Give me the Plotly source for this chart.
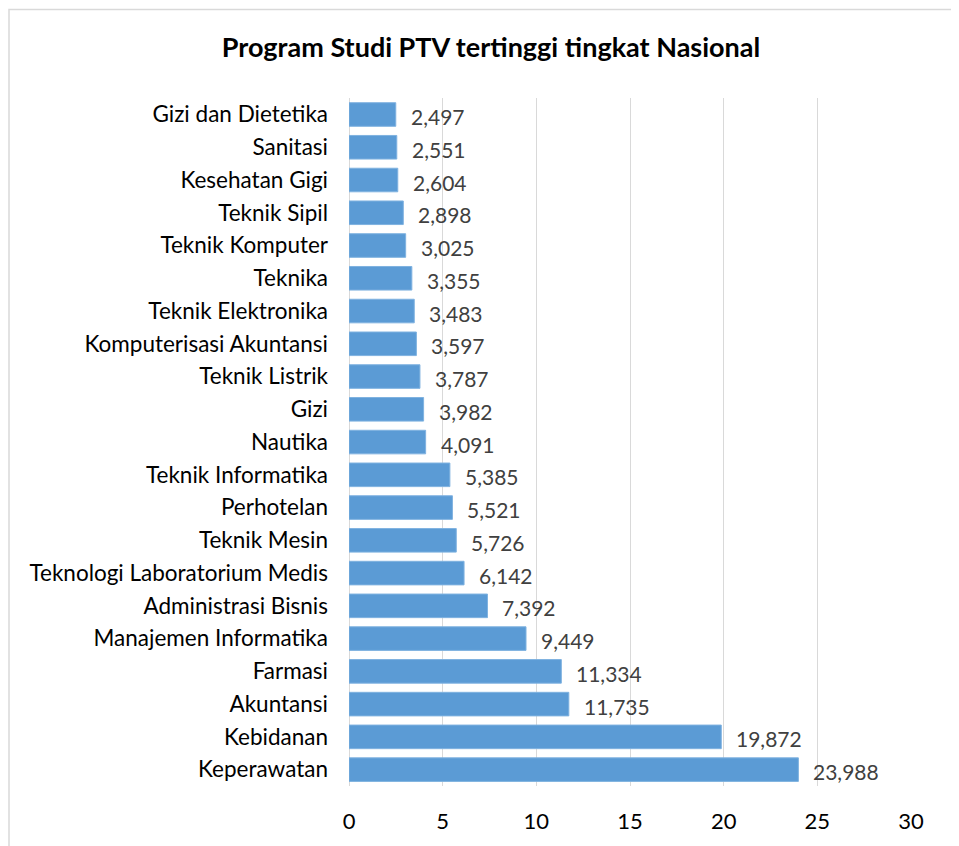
import plotly.graph_objects as go

categories = ["Gizi dan Dietetika", "Sanitasi", "Kesehatan Gigi", "Teknik Sipil",
              "Teknik Komputer", "Teknika", "Teknik Elektronika", "Komputerisasi Akuntansi",
              "Teknik Listrik", "Gizi", "Nautika", "Teknik Informatika", "Perhotelan",
              "Teknik Mesin", "Teknologi Laboratorium Medis", "Administrasi Bisnis",
              "Manajemen Informatika", "Farmasi", "Akuntansi", "Kebidanan", "Keperawatan"]
values = [2.497, 2.551, 2.604, 2.898, 3.025, 3.355, 3.483, 3.597, 3.787, 3.982, 4.091,
          5.385, 5.521, 5.726, 6.142, 7.392, 9.449, 11.334, 11.735, 19.872, 23.988]
tick_values = [0, 5, 10, 15, 20, 25, 30]

labels = [f"{v:.3f}".replace(".", ",") for v in values]

FONT = "Lato, Calibri, 'Noto Sans', sans-serif"

fig = go.Figure(go.Bar(
    x=values, y=categories, orientation="h",
    marker=dict(color="#5B9BD5", line=dict(color="#7fb2e0", width=1)),
    width=0.72,
    hoverinfo="x+y",
))

for c, v, t in zip(categories, values, labels):
    fig.add_annotation(x=v, y=c, text=t, showarrow=False, xanchor="left",
                       xshift=13, yshift=-2,
                       font=dict(family=FONT, size=21, color="#404040"))

W, H = 951, 838
L, T = 341, 90
pw, ph = 562, 692
R, B = W - L - pw, H - T - ph

# light chart-area border (figure pixel coords converted to paper units)
fig.add_shape(type="rect", xref="paper", yref="paper",
              x0=(1 - L) / pw, x1=1.3,
              y0=-0.3, y1=(ph + T - 1) / ph,
              line=dict(color="#d9d9d9", width=1.5), fillcolor="rgba(0,0,0,0)", layer="below")

fig.update_layout(
    width=W, height=H,
    margin=dict(l=L, r=R, t=T, b=B),
    paper_bgcolor="white", plot_bgcolor="white",
    showlegend=False,
    title=dict(text="<b>Program Studi PTV tertinggi tingkat Nasional</b>",
               x=483 / W, xref="container", xanchor="center",
               y=1 - 40 / H, yref="container", yanchor="middle",
               font=dict(family=FONT, size=27, color="black")),
    xaxis=dict(range=[0, 30], tickvals=tick_values, showgrid=True,
               gridcolor="#d9d9d9", gridwidth=1.3, zeroline=True, zerolinecolor="#d9d9d9",
               zerolinewidth=1.3, showline=False, ticks="",
               tickfont=dict(family=FONT, size=22, color="black"),
               ticklabelstandoff=20, fixedrange=True),
    yaxis=dict(autorange="reversed", showgrid=False, showline=False, ticks="",
               tickfont=dict(family=FONT, size=22.5, color="black"),
               ticklabelstandoff=20, fixedrange=True),
    font=dict(family=FONT),
)

fig.write_html("out.html")
